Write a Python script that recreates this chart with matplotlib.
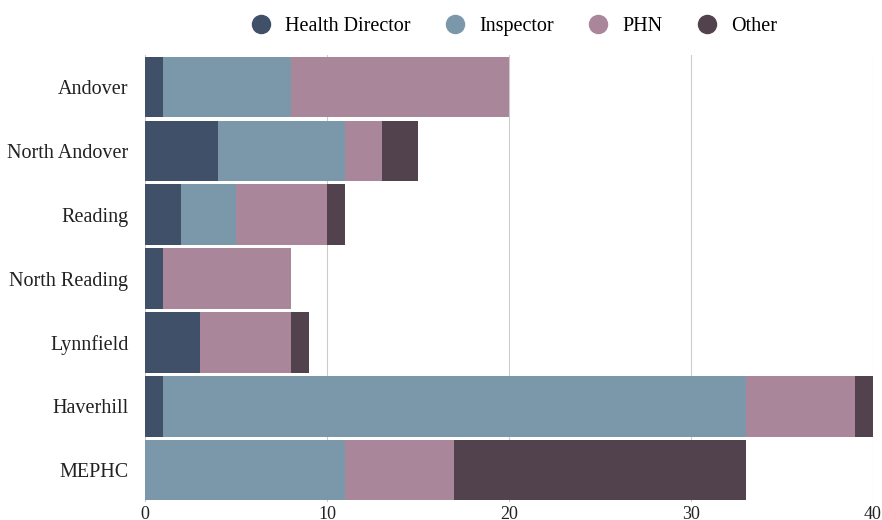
import matplotlib.pyplot as plt
import numpy as np

# data
towns = ["Andover", "North Andover", "Reading", "North Reading", "Lynnfield", "Haverhill", "MEPHC"]
health_director = [1, 4, 2, 1, 3, 1, 0]
inspector = [7, 7, 3, 0, 0, 32, 11]
phn = [12, 2, 5, 7, 5, 6, 6]
other = [0, 2, 1, 0, 1, 1, 16]

series = ["Health Director", "Inspector", "PHN", "Other"]
colors = ["#3f5068", "#7b98aa", "#a98699", "#52424d"]

plt.rcParams['font.family'] = ['Liberation Serif', 'DejaVu Serif']

fig = plt.figure(figsize=(8.82, 5.2), dpi=100)
ax = fig.add_axes([0.1644, 0.0345, 0.8254, 0.8593])

y = np.arange(len(towns))
left = np.zeros(len(towns))
for name, vals, col in zip(series, [health_director, inspector, phn, other], colors):
    vals = np.array(vals, dtype=float)
    ax.barh(y, vals, left=left, height=0.95, color=col, edgecolor="none", label=name, zorder=2)
    left += vals

ax.set_xlim(0, 40)
ax.set_ylim(len(towns) - 0.5, -0.5)
ax.set_yticks(y)
ax.set_yticklabels(towns, fontsize=14.5, color="#222222")
ax.set_xticks([0, 10, 20, 30, 40])
ax.tick_params(axis="both", length=0)
ax.tick_params(axis="x", labelsize=13, pad=3, colors="#222222")
ax.tick_params(axis="y", pad=12)
ax.grid(axis="x", color="#cccccc", linewidth=0.8, zorder=0)
for s in ax.spines.values():
    s.set_visible(False)

handles = [plt.Line2D([], [], marker="o", linestyle="", markersize=13, color=c) for c in colors]
fig.legend(handles, series, loc="upper center", bbox_to_anchor=(0.577, 0.995), ncol=4, frameon=False,
           fontsize=14.5, handletextpad=0.2, columnspacing=1.2, borderaxespad=0.3)

fig.savefig("out.png", dpi=100)
